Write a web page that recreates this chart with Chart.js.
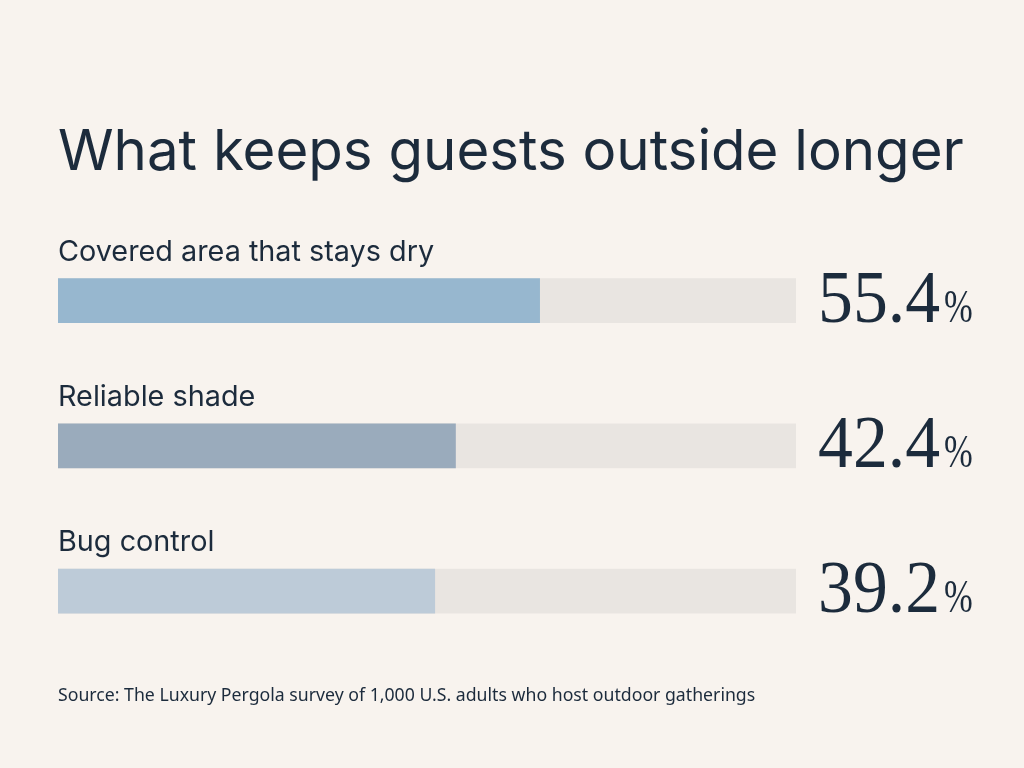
<!DOCTYPE html>
<html>
<head>
<meta charset="utf-8">
<script src="https://cdn.jsdelivr.net/npm/chart.js@4/dist/chart.umd.min.js"></script>
<style>
  html, body { margin: 0; padding: 0; background: #f8f3ee; }
  #wrap { width: 1024px; height: 768px; }
</style>
</head>
<body>
<div id="wrap"><canvas id="myChart" width="1024" height="768"></canvas></div>
<script>
// chart data
var categories = ['Covered area that stays dry', 'Reliable shade', 'Bug control'];
var shares = [55.4, 42.4, 39.2];
var barColors = ['#97b7cf', '#9aabbc', '#bdcbd8'];
var trackMax = [95, 95, 95];

var AXIS_MIN = -19;
var AXIS_MAX = 95;
var ink = '#1c2b3c';
var titleText = 'What keeps guests outside longer';

// draws the title, the label above each bar and the big value on the right
// (title drawn here because the built-in one squeezes text to the chart width)
var barText = {
    id: 'barText',
    afterDatasetsDraw: function(chart) {
        var ctx = chart.ctx;
        var meta = chart.getDatasetMeta(0);
        var area = chart.chartArea;
        ctx.save();
        ctx.fillStyle = ink;
        ctx.textAlign = 'left';
        ctx.textBaseline = 'alphabetic';
        ctx.font = '400 56.4px Inter';
        ctx.fillText(titleText, area.left, 170);

        meta.data.forEach(function(bar, i) {
            var top = bar.y - bar.height / 2;
            var bottom = bar.y + bar.height / 2;

            // category label
            ctx.fillStyle = ink;
            ctx.font = '400 28.8px Inter';
            ctx.fillText(categories[i], area.left, top - 18);

            // value, serif, slightly narrowed
            var num = shares[i].toFixed(1);
            var x0 = area.right + 22;
            var base = bottom - 1;
            ctx.save();
            ctx.translate(x0, base);
            ctx.scale(0.93, 1);
            ctx.font = '400 75px "Liberation Serif"';
            ctx.fillText(num, 0, 0);
            var w = ctx.measureText(num).width;
            ctx.restore();

            ctx.save();
            ctx.translate(x0 + w * 0.93 + 4, base);
            ctx.scale(0.75, 1);
            ctx.font = '400 46px "Liberation Serif"';
            ctx.fillText('%', 0, 0);
            ctx.restore();
        });
        ctx.restore();
    }
};

var ctx = document.getElementById('myChart').getContext('2d');
var myChart = new Chart(ctx, {
    type: 'bar',
    data: {
        labels: categories,
        datasets: [{
            label: 'Share',
            data: shares,
            backgroundColor: barColors,
            base: AXIS_MIN,
            grouped: false,
            barThickness: 44,
            borderWidth: 0,
            order: 0
        }, {
            label: 'Track',
            data: trackMax,
            backgroundColor: '#e9e5e1',
            base: AXIS_MIN,
            grouped: false,
            barThickness: 44,
            borderWidth: 0,
            order: 1
        }]
    },
    options: {
        indexAxis: 'y',
        responsive: false,
        animation: false,
        layout: {
            padding: { left: 58, right: 228, top: 228, bottom: 0 }
        },
        scales: {
            x: { display: false, min: AXIS_MIN, max: AXIS_MAX },
            y: { display: false }
        },
        plugins: {
            legend: { display: false },
            tooltip: { enabled: false },
            title: { display: false },
            subtitle: {
                display: true,
                position: 'bottom',
                text: 'Source: The Luxury Pergola survey of 1,000 U.S. adults who host outdoor gatherings',
                align: 'start',
                color: ink,
                font: { family: 'Noto Sans', size: 17.7, weight: '400', lineHeight: 1.2 },
                padding: { top: 22, bottom: 61 }
            }
        }
    },
    plugins: [barText]
});
</script>
</body>
</html>
